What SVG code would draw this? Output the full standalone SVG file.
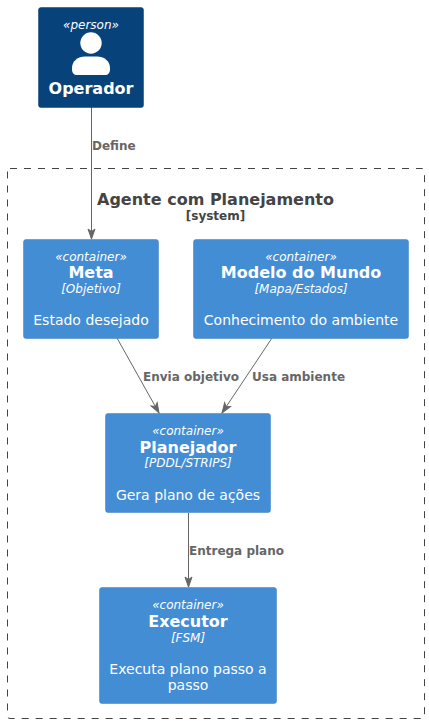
<svg xmlns="http://www.w3.org/2000/svg" width="429" height="724" viewBox="0 0 429 724">
<defs>
<style>
text{font-family:"DejaVu Sans",sans-serif;fill:#fff;text-anchor:middle}
.box{fill:#438DD5;stroke:#3C7FC0;stroke-width:.5}
.st{font-size:12px;font-style:italic}
.nm{font-size:16px;font-weight:bold}
.ds{font-size:14px}
.ed{stroke:#666;stroke-width:1;fill:none;marker-end:url(#a)}
.lb{font-size:12px;font-weight:bold;fill:#666;text-anchor:start}
</style>
<marker id="a" markerUnits="userSpaceOnUse" markerWidth="12" markerHeight="12" refX="10" refY="5" orient="auto" overflow="visible"><path d="M0 1.500 L10 5 L0 8.500 L2.500 5 Z" fill="#666" stroke="#666" stroke-width="1"/></marker>
</defs>
<rect width="429" height="724" fill="#fff"/>
<g id="boundary">
<rect x="7.500" y="168.500" width="417" height="550" rx="2.500" fill="none" stroke="#444" stroke-width="1" stroke-dasharray="7 7"/>
<text x="215.500" y="205" font-size="16" font-weight="bold" style="fill:#444">Agente com Planejamento</text>
<text x="215.500" y="220" font-size="12" font-weight="bold" style="fill:#444">[system]</text>
</g>
<g id="connectors">
<path class="ed" d="M91.500 107V239"/>
<path class="ed" d="M117 338L159 413"/>
<path class="ed" d="M272 338L222 413"/>
<path class="ed" d="M188.500 513V587"/>
<text class="lb" x="92" y="150">Define</text>
<text class="lb" x="143" y="381">Envia objetivo</text>
<text class="lb" x="252" y="381">Usa ambiente</text>
<text class="lb" x="189" y="555">Entrega plano</text>
</g>
<g id="operador">
<rect x="38.500" y="7.500" width="105" height="100" rx="2.500" fill="#08427B" stroke="#073B6F" stroke-width=".5"/>
<text class="st" x="91" y="29">«person»</text>
<circle cx="91" cy="43" r="10.700" fill="#fff"/>
<path d="M72 69V68C72 61 78 56.500 85 56.500H97C104 56.500 110 61 110 68V69C110 73 108 75 105 75H77C74 75 72 73 72 69Z" fill="#fff"/>
<text x="91" y="94" font-size="16" font-weight="bold">Operador</text>
</g>
<g id="meta">
<rect class="box" x="23.500" y="239.500" width="135" height="99" rx="2.500"/>
<text class="st" x="91" y="261">«container»</text>
<text class="nm" x="91" y="278">Meta</text>
<text class="st" x="91" y="293">[Objetivo]</text>
<text class="ds" x="91" y="325">Estado desejado</text>
</g>
<g id="modelo">
<rect class="box" x="193.500" y="239.500" width="215" height="99" rx="2.500"/>
<text class="st" x="301" y="261">«container»</text>
<text class="nm" x="301" y="278">Modelo do Mundo</text>
<text class="st" x="301" y="293">[Mapa/Estados]</text>
<text class="ds" x="301" y="325">Conhecimento do ambiente</text>
</g>
<g id="planejador">
<rect class="box" x="105.500" y="413.500" width="165" height="99" rx="2.500"/>
<text class="st" x="188" y="435">«container»</text>
<text class="nm" x="188" y="453">Planejador</text>
<text class="st" x="188" y="467">[PDDL/STRIPS]</text>
<text class="ds" x="188" y="500">Gera plano de ações</text>
</g>
<g id="executor">
<rect class="box" x="99.500" y="587.500" width="177" height="116" rx="2.500"/>
<text class="st" x="188" y="609">«container»</text>
<text class="nm" x="188" y="627">Executor</text>
<text class="st" x="188" y="642">[FSM]</text>
<text class="ds" x="188" y="674">Executa plano passo a</text>
<text class="ds" x="188" y="690">passo</text>
</g>
</svg>
